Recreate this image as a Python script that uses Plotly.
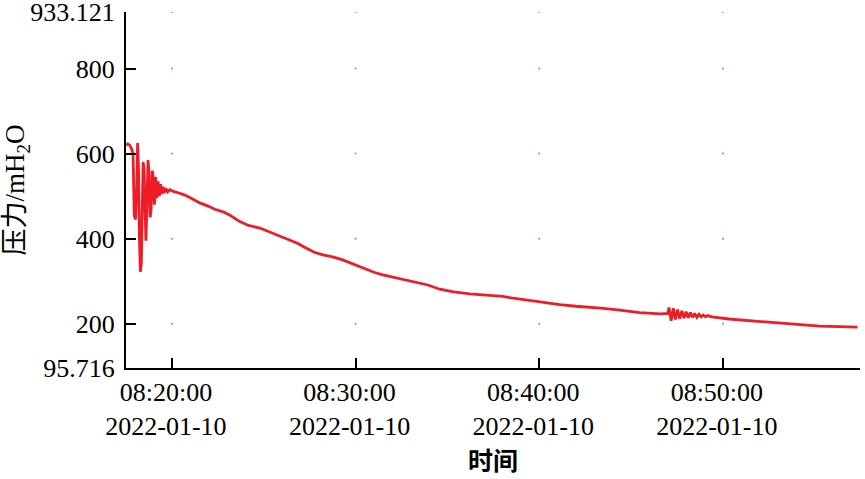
import plotly.graph_objects as go

DAY = "2022-01-10"

time_hms = [
    "08:17:30", "08:17:36", "08:17:42", "08:17:48", "08:17:53", "08:17:57", "08:18:01", "08:18:05",
    "08:18:08", "08:18:11", "08:18:14", "08:18:17", "08:18:20", "08:18:23", "08:18:26", "08:18:29",
    "08:18:32", "08:18:35", "08:18:38", "08:18:42", "08:18:45", "08:18:49", "08:18:52", "08:18:56",
    "08:18:59", "08:19:03", "08:19:07", "08:19:11", "08:19:15", "08:19:19", "08:19:23", "08:19:27",
    "08:19:31", "08:19:35", "08:19:40", "08:19:46", "08:19:53", "08:20:05", "08:20:20", "08:20:40",
    "08:21:00", "08:21:31", "08:22:00", "08:22:20", "08:22:47", "08:23:10", "08:23:42", "08:24:10",
    "08:24:47", "08:25:10", "08:25:43", "08:26:25", "08:26:50", "08:27:21", "08:27:45", "08:28:13",
    "08:28:45", "08:29:18", "08:29:50", "08:30:24", "08:31:00", "08:31:29", "08:32:10", "08:32:47",
    "08:33:20", "08:33:56", "08:34:35", "08:35:20", "08:36:13", "08:37:19", "08:38:00", "08:38:34",
    "08:39:20", "08:40:02", "08:41:07", "08:42:00", "08:42:45", "08:43:30", "08:44:23", "08:45:28",
    "08:46:34", "08:47:00", "08:47:04", "08:47:11", "08:47:18", "08:47:25", "08:47:32", "08:47:39",
    "08:47:46", "08:47:53", "08:48:00", "08:48:07", "08:48:14", "08:48:21", "08:48:28", "08:48:35",
    "08:48:42", "08:48:49", "08:48:56", "08:49:03", "08:49:10", "08:49:24", "08:50:20", "08:51:28",
    "08:52:43", "08:53:40", "08:54:34", "08:55:16", "08:56:20", "08:57:20",
]
pressure = [
    620, 623, 620, 612, 600, 455, 445, 520,
    625, 560, 400, 322, 340, 470, 580, 565,
    440, 395, 470, 585, 555, 450, 470, 560,
    545, 480, 545, 495, 535, 500, 528, 505,
    522, 508, 518, 510, 515, 511, 508, 503,
    496, 484, 476, 469, 463, 455, 440, 431,
    425, 418, 408, 397, 389, 377, 368, 362,
    357, 350, 341, 330, 321, 315, 308, 302,
    297, 291, 281, 275, 270, 267, 264, 260,
    255, 251, 245, 241, 239, 236, 232, 226,
    223, 224, 238, 207, 236, 210, 233, 212,
    230, 213, 228, 214, 226, 215, 224, 215,
    222, 216, 220, 216, 219, 216, 211, 207,
    204, 201, 197, 194, 193, 192,
]

x_range_hms = ["08:17:30", "08:57:28"]
x_tick_hms = ["08:20:00", "08:30:00", "08:40:00", "08:50:00"]
y_min, y_max = 95.716, 933.121
y_ticks = [95.716, 200, 400, 600, 800, 933.121]
y_tick_text = ["95.716", "200", "400", "600", "800", "933.121"]
grid_y = [200, 400, 600, 800, 933.121]

x_vals = [f"{DAY} {t}" for t in time_hms]
x_ticks = [f"{DAY} {t}" for t in x_tick_hms]
x_tick_text = [f"{t}<br>{DAY}" for t in x_tick_hms]

serif = "Liberation Serif"

fig = go.Figure()

# faint grid dots at tick intersections
gx, gy = [], []
for xt in x_ticks:
    for yt in grid_y:
        gx.append(xt)
        gy.append(yt)
fig.add_trace(go.Scatter(x=gx, y=gy, mode="markers",
                         marker=dict(size=2, color="#6f8fd0"),
                         hoverinfo="skip", showlegend=False))

fig.add_trace(go.Scatter(x=x_vals, y=pressure, mode="lines",
                         line=dict(color="#ee1c27", width=2.8),
                         showlegend=False))

fig.update_layout(
    width=865, height=479,
    margin=dict(l=126, r=5, t=12, b=111),
    paper_bgcolor="white", plot_bgcolor="white",
    font=dict(family=serif, size=26, color="black"),
)
fig.update_xaxes(
    range=[f"{DAY} {x_range_hms[0]}", f"{DAY} {x_range_hms[1]}"],
    tickmode="array", tickvals=x_ticks, ticktext=x_tick_text,
    ticks="inside", ticklen=10, tickwidth=2, tickcolor="black",
    showline=True, linecolor="black", linewidth=2,
    showgrid=False, zeroline=False, automargin=False,
    ticklabeloverflow="allow", ticklabelshift=-6,
    tickfont=dict(family=serif, size=26),
    title=dict(text="<b>时间</b>", font=dict(family="Noto Sans CJK SC", size=25), standoff=10),
)
fig.update_yaxes(
    range=[y_min, y_max],
    tickmode="array", tickvals=y_ticks, ticktext=y_tick_text,
    ticks="inside", ticklen=10, tickwidth=2, tickcolor="black",
    showline=True, linecolor="black", linewidth=2,
    showgrid=False, zeroline=False, automargin=False,
    ticklabeloverflow="allow", ticklabelstandoff=4,
    tickfont=dict(family=serif, size=26),
    title=dict(text="压力/mH<sub>2</sub>O", font=dict(family="Liberation Serif, Noto Sans CJK SC", size=27), standoff=4),
)

fig.write_html("out.html", post_script="document.body.style.margin='0';",
               config={"displayModeBar": False})
